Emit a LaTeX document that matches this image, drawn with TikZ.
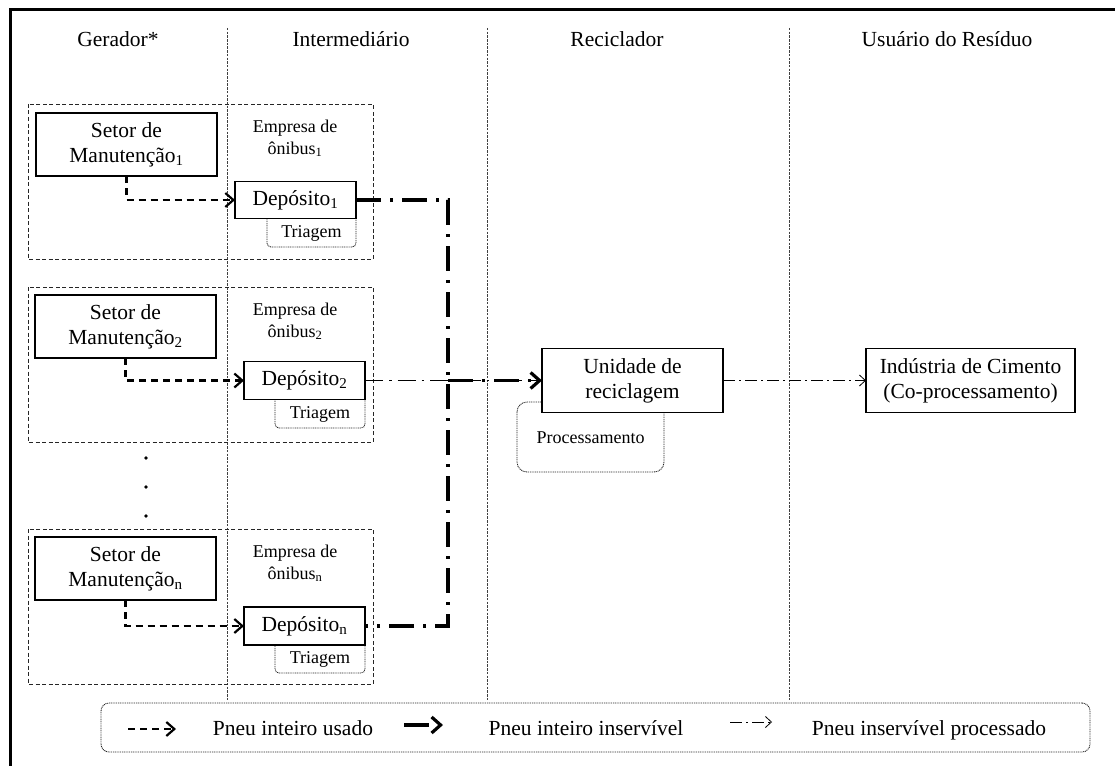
\documentclass[tikz,border=0pt]{standalone}
\usepackage{fontspec}
\setmainfont{Liberation Serif}
\usetikzlibrary{arrows.meta}
\newcommand{\idx}[1]{\textsubscript{#1}}
\begin{document}
\begin{tikzpicture}[x=1pt,y=-1pt,
  every node/.style={inner sep=0pt,outer sep=0pt},
  big/.style={font=\fontsize{21.5}{25}\selectfont},
  small/.style={font=\fontsize{18}{22}\selectfont},
  unit/.style={draw,line width=1.3pt,fill=white,align=center,big},
  groupbox/.style={draw=black!85,line width=0.9pt,dash pattern=on 4pt off 2.5pt},
  divider/.style={draw=black!75,line width=0.9pt,dash pattern=on 2.5pt off 1.2pt},
  dotline/.style={draw=black!85,line width=0.9pt,dash pattern=on 1pt off 0.8pt},
  subtask/.style={dotline,rounded corners=4pt},
  usedflow/.style={line width=2.2pt,dash pattern=on 7pt off 5pt,-{Straight Barb[length=8pt,width=14pt]}},
  wasteflow/.style={line width=3.2pt,dash pattern=on 25pt off 9pt on 3pt off 9pt},
  wastetip/.style={-{Straight Barb[length=9pt,width=16pt]}},
  thinwaste/.style={line width=1.4pt,dash pattern=on 18pt off 6pt on 2.5pt off 6pt},
  procflow/.style={line width=0.8pt,dash pattern=on 12pt off 4pt on 2pt off 4pt,-{Straight Barb[length=6pt,width=11pt]}}
]
\useasboundingbox (0,0) rectangle (1115,765);
\clip (0,0) rectangle (1115,765);

% outer frame (runs past the right and bottom edges)
\draw[line width=3pt] (10,10) rectangle (1140,790);

% column headers
\node[big,anchor=base] (hgen) at (118,47) {Gerador*};
\node[big,anchor=base] (hint) at (351,47) {Intermediário};
\node[big,anchor=base] (hrec) at (617,47) {Reciclador};
\node[big,anchor=base] (husr) at (947,47) {Usuário do Resíduo};

% column dividers
\draw[divider] (227,28) -- (227,700);
\draw[divider] (487,28) -- (487,700);
\draw[divider] (789,28) -- (789,700);

% ---- company 1 ----
\draw[groupbox] (28,104) rectangle (373,259);
\node[unit,minimum width=181pt,minimum height=63pt] (s1) at (126.5,144.5) {Setor de\\Manutenção\idx{1}};
\node[small,anchor=base] (e1a) at (295,132) {Empresa de};
\node[small,anchor=base] (e1b) at (295,154) {ônibus\idx{1}};
\draw[subtask] (267,210) rectangle (356,247);
\node[small,anchor=base] (t1) at (311.5,237) {Triagem};
\node[unit,minimum width=121pt,minimum height=37pt] (d1) at (295.5,200) {Depósito\idx{1}};

% ---- company 2 ----
\draw[groupbox] (28,287) rectangle (373,442);
\node[unit,minimum width=181pt,minimum height=63pt] (s2) at (125.5,326.5) {Setor de\\Manutenção\idx{2}};
\node[small,anchor=base] (e2a) at (295,315) {Empresa de};
\node[small,anchor=base] (e2b) at (295,337) {ônibus\idx{2}};
\draw[subtask] (275,390) rectangle (365,428);
\node[small,anchor=base] (t2) at (320,418) {Triagem};
\node[unit,minimum width=121pt,minimum height=38pt] (d2) at (304.5,380.5) {Depósito\idx{2}};

% ellipsis between companies
\fill (146,458) circle (1.8pt);
\fill (146,487) circle (1.8pt);
\fill (146,516) circle (1.8pt);

% ---- company n ----
\draw[groupbox] (28,529) rectangle (373,684);
\node[unit,minimum width=181pt,minimum height=63pt] (sn) at (125.5,568.5) {Setor de\\Manutenção\idx{n}};
\node[small,anchor=base] (ena) at (295,557) {Empresa de};
\node[small,anchor=base] (enb) at (295,579) {ônibus\idx{n}};
\draw[subtask] (275,635) rectangle (365,673);
\node[small,anchor=base] (tn) at (320,663) {Triagem};
\node[unit,minimum width=121pt,minimum height=38pt] (dn) at (304.5,626) {Depósito\idx{n}};

% ---- recycler and user ----
\draw[dotline,rounded corners=10pt] (517,402) rectangle (664,472);
\node[small,anchor=base] (proc) at (590.5,443) {Processamento};
\node[unit,minimum width=181pt,minimum height=64pt] (u) at (632.5,380.5) {Unidade de\\reciclagem};
\node[unit,minimum width=209pt,minimum height=64pt] (ind) at (970.5,380.5) {Indústria de Cimento\\(Co-processamento)};

% used tyres: maintenance -> depot
\draw[usedflow] (s1.south) |- (d1.west);
\draw[usedflow] (s2.south) |- (d2.west);
\draw[usedflow] (sn.south) |- (dn.west);

% unserviceable tyres: depots -> recycling unit
\coordinate (tx) at (448,0);
\draw[thinwaste] (d2.east) -- (u.west);
\draw[wasteflow] (d1.east) -- (d1.east -| tx) -- (dn.east -| tx) -- (dn.east);
\draw[wasteflow,wastetip] (d2.east -| tx) -- (u.west);

% processed tyres: recycling unit -> cement industry
\draw[procflow] (u.east) -- (ind.west);

% legend
\node[dotline,rounded corners=8pt,minimum width=989pt,minimum height=49pt] (legend) at (595.5,727.5) {};
\coordinate (la0) at (128,729); \coordinate (la1) at (176,729);
\draw[usedflow] (la0) -- (la1);
\node[big,anchor=base] (lt1) at (293,735) {Pneu inteiro usado};
\coordinate (lb0) at (404,725); \coordinate (lb1) at (443,725);
\draw[wasteflow,wastetip] (lb0) -- (lb1);
\node[big,anchor=base] (lt2) at (586,735) {Pneu inteiro inservível};
\coordinate (lc0) at (730,722); \coordinate (lc1) at (772,722);
\draw[procflow] (lc0) -- (lc1);
\node[big,anchor=base] (lt3) at (929,735) {Pneu inservível processado};
\end{tikzpicture}
\end{document}
